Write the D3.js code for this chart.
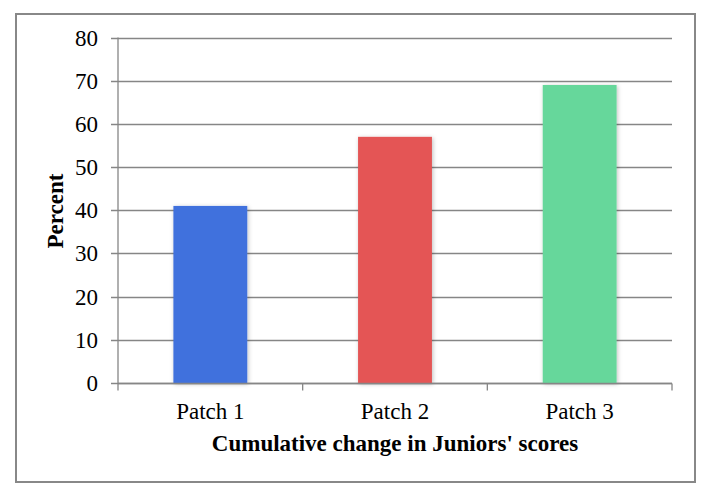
<!DOCTYPE html>
<html>
<head>
<meta charset="utf-8">
<script src="https://cdn.jsdelivr.net/npm/d3@7"></script>
<style>
  body { margin: 0; background: #fff; }
  svg { display: block; }
  text { font-family: "Liberation Serif", serif; fill: #000; }
</style>
</head>
<body>
<svg width="717" height="498"></svg>
<script>
const categories = ['Patch 1', 'Patch 2', 'Patch 3'];
const values = [41, 57, 69];
const colors = ['#4171DD', '#E45454', '#66D79B'];
const yTicks = [0, 10, 20, 30, 40, 50, 60, 70, 80];

const svg = d3.select('svg');
const margin = { left: 118, right: 45, top: 37.5, bottom: 115 };
const width = +svg.attr('width');
const height = +svg.attr('height');

// outer frame
svg.append('rect')
  .attr('x', 16)
  .attr('y', 14)
  .attr('width', 679)
  .attr('height', 468)
  .attr('fill', '#fff')
  .attr('stroke', '#888')
  .attr('stroke-width', 2);

const defs = svg.append('defs');
const shadow = defs.append('filter')
  .attr('id', 'shadow')
  .attr('x', '-20%').attr('y', '-10%')
  .attr('width', '140%').attr('height', '120%');
shadow.append('feDropShadow')
  .attr('dx', 1).attr('dy', 1)
  .attr('stdDeviation', 2)
  .attr('flood-color', '#000')
  .attr('flood-opacity', 0.25);

const xScale = d3.scaleBand()
  .domain(categories)
  .range([margin.left, width - margin.right])
  .paddingInner(0.6)
  .paddingOuter(0.3);
const yScale = d3.scaleLinear()
  .domain([0, 80])
  .range([height - margin.bottom, margin.top]);

// gridlines
svg.append('g')
  .selectAll('line')
  .data(yTicks)
  .enter()
    .append('line')
    .attr('x1', margin.left - 7)
    .attr('x2', width - margin.right)
    .attr('y1', (d) => Math.round(yScale(d)) + 0.5)
    .attr('y2', (d) => Math.round(yScale(d)) + 0.5)
    .attr('stroke', '#868686')
    .attr('stroke-width', 1.3);

svg.append('g')
  .selectAll('text')
  .data(yTicks)
  .enter()
    .append('text')
    .attr('x', margin.left - 20)
    .attr('y', (d) => yScale(d))
    .attr('dy', '0.35em')
    .attr('text-anchor', 'end')
    .style('font-size', '23px')
    .text((d) => d);

// bars
svg.append('g')
  .selectAll('rect')
  .data(values)
  .enter()
    .append('rect')
    .attr('x', (d, i) => xScale(categories[i]))
    .attr('y', (d) => yScale(d))
    .attr('width', xScale.bandwidth())
    .attr('height', (d) => yScale(0) - yScale(d))
    .attr('fill', (d, i) => colors[i])
    .attr('filter', 'url(#shadow)');

// axes lines
const step = xScale.step();
const x0 = margin.left;
const y0 = Math.round(yScale(0)) + 0.5;
svg.append('line')
  .attr('x1', x0).attr('x2', x0)
  .attr('y1', margin.top).attr('y2', y0)
  .attr('stroke', '#868686').attr('stroke-width', 1.3);
svg.append('line')
  .attr('x1', x0).attr('x2', width - margin.right)
  .attr('y1', y0).attr('y2', y0)
  .attr('stroke', '#868686').attr('stroke-width', 1.3);
svg.append('g')
  .selectAll('line')
  .data(d3.range(categories.length + 1))
  .enter()
    .append('line')
    .attr('x1', (d) => x0 + d * step)
    .attr('x2', (d) => x0 + d * step)
    .attr('y1', y0)
    .attr('y2', y0 + 7)
    .attr('stroke', '#868686')
    .attr('stroke-width', 1.3);

svg.append('g')
  .selectAll('text')
  .data(categories)
  .enter()
    .append('text')
    .attr('x', (d) => xScale(d) + xScale.bandwidth() / 2)
    .attr('y', 419)
    .attr('text-anchor', 'middle')
    .style('font-size', '23px')
    .text((d) => d);

svg.append('text')
  .attr('x', 395)
  .attr('y', 451)
  .attr('text-anchor', 'middle')
  .style('font-size', '23px')
  .style('font-weight', 'bold')
  .text("Cumulative change in Juniors' scores");

svg.append('text')
  .attr('transform', 'translate(63,211) rotate(-90)')
  .attr('text-anchor', 'middle')
  .style('font-size', '23px')
  .style('font-weight', 'bold')
  .text('Percent');
</script>
</body>
</html>
